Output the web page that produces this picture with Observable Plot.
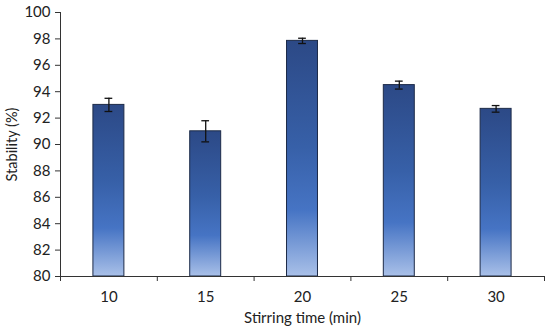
<!DOCTYPE html>
<html><head><meta charset="utf-8">
<script src="https://cdn.jsdelivr.net/npm/d3@7"></script>
<script src="https://cdn.jsdelivr.net/npm/@observablehq/plot@0.6"></script>
<style>
html,body{margin:0;padding:0;background:#fff;}
svg{display:block;}
</style>
</head><body>
<div id="chart"></div>
<script>
const times = [10, 15, 20, 25, 30];
const stability = [93.0, 91.0, 97.85, 94.5, 92.7];
const errors = [0.5, 0.8, 0.2, 0.3, 0.25];
const yTicks = [80, 82, 84, 86, 88, 90, 92, 94, 96, 98, 100];

const data = times.map((t, i) => ({t, v: stability[i], e: errors[i]}));
const halfBar = 0.8, halfCap = 0.2;
const bounds = [7.5, 12.5, 17.5, 22.5, 27.5, 32.5];
const font = "Lato, 'Open Sans', sans-serif";

const chart = Plot.plot({
  width: 550, height: 332,
  marginLeft: 60, marginRight: 6, marginTop: 12, marginBottom: 56,
  style: {fontFamily: font, fontSize: "14px", color: "#222", background: "#fff"},
  x: {type: "linear", domain: [7.5, 32.5], axis: null},
  y: {domain: [80, 100], axis: null},
  marks: [
    () => {
      const ns = "http://www.w3.org/2000/svg";
      const defs = document.createElementNS(ns, "defs");
      defs.innerHTML = `<linearGradient id="bg" x1="0" y1="0" x2="0" y2="1">
        <stop offset="0" stop-color="#2c4986"/>
        <stop offset="0.45" stop-color="#3760a8"/>
        <stop offset="0.72" stop-color="#4674c4"/>
        <stop offset="1" stop-color="#a9c0e8"/>
      </linearGradient>`;
      return defs;
    },
    Plot.rectY(data, {x1: d => d.t - halfBar, x2: d => d.t + halfBar, y1: 80, y2: "v",
      fill: "url(#bg)", stroke: "#1d2b48", strokeWidth: 1}),
    Plot.ruleX(data, {x: "t", y1: d => d.v - d.e, y2: d => d.v + d.e, stroke: "#111", strokeWidth: 1.3}),
    Plot.ruleY(data, {y: d => d.v + d.e, x1: d => d.t - halfCap, x2: d => d.t + halfCap, stroke: "#111", strokeWidth: 1.3}),
    Plot.ruleY(data, {y: d => d.v - d.e, x1: d => d.t - halfCap, x2: d => d.t + halfCap, stroke: "#111", strokeWidth: 1.3}),
    Plot.ruleY([80], {stroke: "#333", strokeWidth: 1}),
    Plot.ruleX([7.5], {y1: 80, y2: 100, stroke: "#333", strokeWidth: 1}),
    Plot.axisY({ticks: yTicks, tickSize: 5, tickPadding: 5, stroke: "#333", fontSize: 15, fill: "#222", label: null}),
    Plot.axisX({ticks: bounds, tickSize: 5, tickFormat: () => "", stroke: "#333", label: null}),
    Plot.text(times, {x: d => d, y: 80, dy: 21, text: d => String(d), fontSize: 15, fill: "#222"}),
    Plot.text(["Stirring time (min)"], {frameAnchor: "bottom", lineAnchor: "middle", dy: 42, fontSize: 15, fill: "#222"}),
    Plot.text(["Stability (%)"], {frameAnchor: "left", textAnchor: "middle", lineAnchor: "middle", dx: -48, rotate: -90, fontSize: 14.5, fill: "#222"})
  ]
});
document.getElementById("chart").appendChild(chart);
</script>
</body></html>
